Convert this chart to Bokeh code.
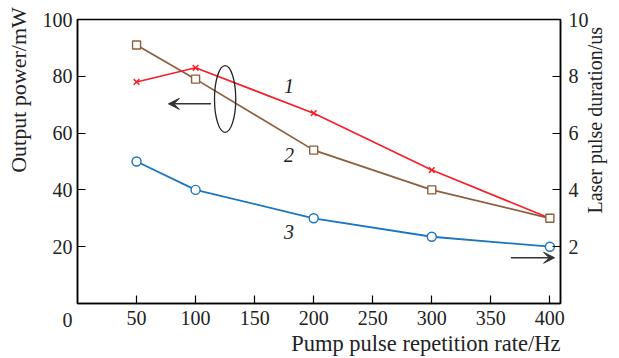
import math
from bokeh.plotting import figure
from bokeh.models import Range1d, LinearAxis, FixedTicker, Label, Arrow, VeeHead
from bokeh.embed import file_html
from bokeh.resources import INLINE

# Data
rate_hz = [50, 100, 200, 300, 400]
power_1 = [78, 83, 67, 47, 30]          # curve 1, left axis (mW)
power_2 = [91, 79, 54, 40, 30]          # curve 2, left axis (mW)
duration_3 = [5.0, 4.0, 3.0, 2.35, 2.0]  # curve 3, right axis (us)
x_ticks = [50, 100, 150, 200, 250, 300, 350, 400]
y_left_ticks = [0, 20, 40, 60, 80, 100]
y_right_ticks = [2, 4, 6, 8, 10]
x_title = "Pump pulse repetition rate/Hz"
y_left_title = "Output power/mW"
y_right_title = "Laser pulse duration/us"

FONT = "'Liberation Serif', serif"
RED = "#f5202a"
BROWN = "#8b5e3c"
BLUE = "#1a76c0"
TXT = "#222222"
NB = "\u00a0"

p = figure(width=619, height=358, output_backend="svg", toolbar_location=None,
           x_range=Range1d(0, 409), y_range=Range1d(0, 100),
           min_border_left=77, min_border_right=51, min_border_top=19, min_border_bottom=53)
p.extra_y_ranges = {"dur": Range1d(0, 10)}
p.xgrid.visible = False
p.ygrid.visible = False
p.outline_line_color = "black"
p.outline_line_width = 1.5
p.background_fill_color = "white"
p.border_fill_color = "white"

ax_r = LinearAxis(y_range_name="dur")
p.add_layout(ax_r, "right")

axes = [p.xaxis[0], p.yaxis[0], ax_r]
for ax in axes:
    ax.major_tick_in = 8
    ax.major_tick_out = 0
    ax.minor_tick_line_color = None
    ax.axis_line_width = 1.5
    ax.major_tick_line_width = 1.2
    ax.major_label_text_font = FONT
    ax.major_label_text_font_size = "20px"
    ax.major_label_text_color = TXT
    ax.axis_label_text_font = FONT
    ax.axis_label_text_font_size = "20px"
    ax.axis_label_text_font_style = "normal"
    ax.axis_label_text_color = TXT
    ax.axis_label_text_line_height = 1.0
    ax.axis_label_align = "center"

p.xaxis[0].ticker = FixedTicker(ticks=x_ticks)
p.xaxis[0].major_label_text_line_height = 1.0
p.yaxis[0].ticker = FixedTicker(ticks=y_left_ticks)
p.yaxis[0].major_label_overrides = {0: "\n0"}
p.yaxis[0].major_label_text_line_height = 1.5
ax_r.ticker = FixedTicker(ticks=y_right_ticks)

p.xaxis[0].major_label_standoff = 7
p.yaxis[0].major_label_standoff = 5
ax_r.major_label_standoff = 8

# axis titles: leading no-break spaces shift the text along its axis
p.xaxis[0].axis_label = NB * 38 + x_title
p.xaxis[0].axis_label_text_font_size = "22.5px"
p.xaxis[0].axis_label_standoff = 3
p.yaxis[0].axis_label = NB * 26 + y_left_title
p.yaxis[0].axis_label_text_font_size = "22px"
p.yaxis[0].axis_label_standoff = 9
ax_r.axis_label = NB * 18 + y_right_title
ax_r.axis_label_standoff = 3
if "axis_label_orientation" in ax_r.properties():
    ax_r.axis_label_orientation = math.pi / 2   # read bottom-to-top like the left title
    ax_r.axis_label_align = "start"

# Curves
p.line(rate_hz, power_2, line_color=BROWN, line_width=1.7)
p.line(rate_hz, power_1, line_color=RED, line_width=1.7)
p.scatter(rate_hz, power_1, marker="x", size=8, line_color=RED, line_width=1.5)
p.scatter(rate_hz, power_2, marker="square", size=8, line_color=BROWN, fill_color="white", line_width=1.4)
p.line(rate_hz, duration_3, line_color=BLUE, line_width=1.8, y_range_name="dur")
p.scatter(rate_hz, duration_3, marker="circle", size=9, line_color=BLUE, fill_color="white",
          line_width=1.4, y_range_name="dur")

# Ellipse + arrows
p.ellipse(x=[125], y=[72], width=18, height=23.5, fill_color=None, line_color=TXT, line_width=1.3)
p.add_layout(Arrow(x_start=113, y_start=70.3, x_end=77, y_end=70.3, line_color="#333333", line_width=1.5,
                   end=VeeHead(size=11, fill_color="#333333", line_color="#333333")))
p.add_layout(Arrow(x_start=367, y_start=16.1, x_end=404, y_end=16.1, line_color="#333333", line_width=1.5,
                   end=VeeHead(size=11, fill_color="#333333", line_color="#333333")))

# Curve numbers
for t, yy in [("1", 76.6), ("2", 52.4), ("3", 25.2)]:
    p.add_layout(Label(x=179, y=yy, text=t, text_font=FONT, text_font_style="italic",
                       text_font_size="20px", text_align="center", text_baseline="middle",
                       text_color=TXT))

open("out.html", "w").write(file_html(p, INLINE))
